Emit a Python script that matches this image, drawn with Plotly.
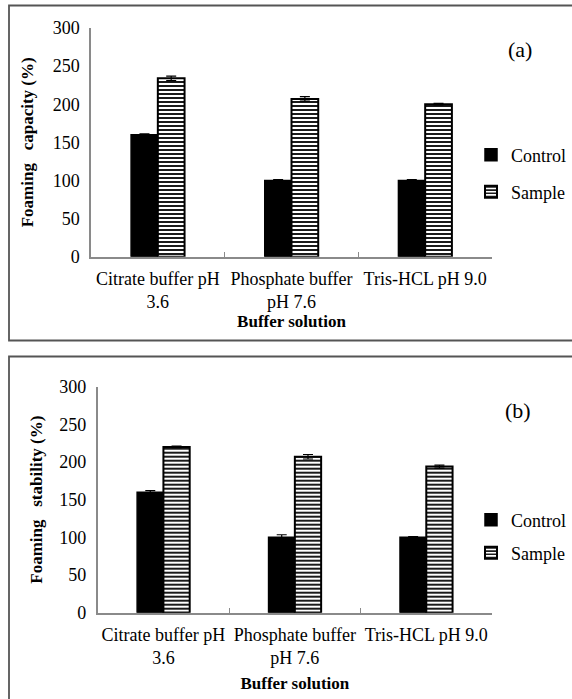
import plotly.graph_objects as go

W, H = 572, 699

categories = ["Citrate buffer pH<br>3.6", "Phosphate buffer<br>pH 7.6", "Tris-HCL pH 9.0"]

# Panel (a): Foaming capacity (%)
cap_control = [160, 100, 100]
cap_control_err = [1, 1, 1]
cap_sample = [234, 207, 200]
cap_sample_err = [3, 3, 1]

# Panel (b): Foaming stability (%)
stab_control = [160, 100, 100]
stab_control_err = [2, 3.5, 1]
stab_sample = [220, 207, 194]
stab_sample_err = [1, 3, 2]

yticks = [0, 50, 100, 150, 200, 250, 300]

FONT = "Liberation Serif"
AXC = "#8a8a8a"

def px(x):
    return x / W

def py(y):
    return 1 - y / H

def serif(t):
    return "<span style='font-family:Liberation Serif,serif'>" + t + "</span>"

fig = go.Figure()

def add_pair(ctrl, ctrl_err, samp, samp_err, xa, ya, lg_c, lg_s):
    fig.add_trace(go.Bar(
        x=categories, y=ctrl, name=serif("Control"), xaxis=xa, yaxis=ya,
        marker=dict(color="black", line=dict(color="black", width=1.5)),
        error_y=dict(type="data", array=ctrl_err, color="black", thickness=1.2, width=5),
        legend=lg_c, showlegend=True,
    ))
    fig.add_trace(go.Bar(
        x=categories, y=samp, name=serif("Sample"), xaxis=xa, yaxis=ya,
        marker=dict(color="white", line=dict(color="black", width=2),
                    pattern=dict(shape="-", size=4, solidity=0.45,
                                 fgcolor="black", bgcolor="white", fillmode="replace")),
        error_y=dict(type="data", array=samp_err, color="black", thickness=1.2, width=5),
        legend=lg_s, showlegend=True,
    ))

add_pair(cap_control, cap_control_err, cap_sample, cap_sample_err, "x", "y", "legend", "legend2")
add_pair(stab_control, stab_control_err, stab_sample, stab_sample_err, "x2", "y2", "legend3", "legend4")

tickfont = dict(family=FONT, size=18, color="black")
titlefont = dict(family=FONT, size=17, color="black")

def xaxis(domain, anchor, standoff):
    return dict(domain=domain, anchor=anchor, type="category", automargin=False,
                showline=True, linecolor=AXC, linewidth=1.5,
                ticks="inside", ticklen=5, tickcolor=AXC, tickwidth=1.2,
                tickson="boundaries", tickfont=tickfont, showgrid=False,
                zeroline=False, tickangle=0, ticklabelstandoff=5,
                title=dict(text="<b>Buffer solution</b>", font=titlefont, standoff=standoff))

def yaxis(domain, anchor, title, standoff):
    return dict(domain=domain, anchor=anchor, range=[0, 300], automargin=False,
                tickvals=yticks, showline=True, linecolor=AXC, linewidth=1.5,
                ticks="", tickfont=tickfont, showgrid=False, zeroline=False,
                ticklabelstandoff=6,
                title=dict(text="<b>" + title + "</b>", font=titlefont, standoff=standoff))

sp = "\u00a0\u00a0 "

def legend_at(x, y):
    return dict(font=dict(family=FONT, size=18, color="black"),
                bgcolor="rgba(0,0,0,0)", borderwidth=0,
                xanchor="left", yanchor="middle", itemwidth=30,
                x=px(x), y=py(y))

fig.update_layout(
    width=W, height=H,
    margin=dict(l=0, r=0, t=0, b=0, autoexpand=False),
    paper_bgcolor="white", plot_bgcolor="white",
    barmode="group", bargap=0.6, bargroupgap=0,
    xaxis=xaxis([px(91), px(492)], "y", 0),
    yaxis=yaxis([py(256.7), py(28)], "x", "Foaming" + sp + "capacity (%)", 15),
    xaxis2=xaxis([px(97.7), px(492)], "y2", 10),
    yaxis2=yaxis([py(612.7), py(386.7)], "x2", "Foaming" + sp + "stability (%)", 12),
    legend=legend_at(471, 155),
    legend2=legend_at(471, 192),
    legend3=legend_at(471, 520),
    legend4=legend_at(471, 553),
    showlegend=True,
    font=dict(family=FONT, color="black"),
    annotations=[
        dict(text="(a)", x=px(520), y=py(50), xref="paper", yref="paper",
             xanchor="center", yanchor="middle",
             showarrow=False, font=dict(family=FONT, size=22, color="black")),
        dict(text="(b)", x=px(518), y=py(410), xref="paper", yref="paper",
             xanchor="center", yanchor="middle",
             showarrow=False, font=dict(family=FONT, size=22, color="black")),
    ],
    shapes=[
        dict(type="rect", xref="paper", yref="paper",
             x0=px(9), x1=px(590), y0=py(340.5), y1=py(5.5),
             line=dict(color="#555555", width=1.8)),
        dict(type="rect", xref="paper", yref="paper",
             x0=px(9), x1=px(590), y0=py(720), y1=py(356.5),
             line=dict(color="#555555", width=1.8)),
    ],
)

fig.write_html("out.html")
